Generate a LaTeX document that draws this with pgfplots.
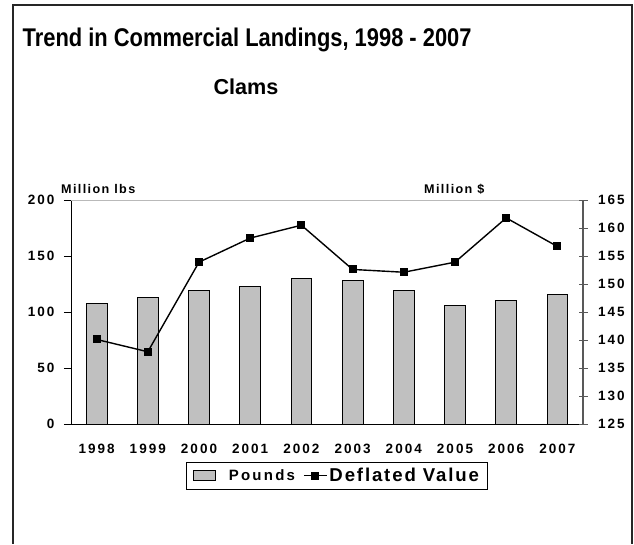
\documentclass[border=0pt]{standalone}
\usepackage{pgfplots}
\pgfplotsset{compat=1.18}
\usepackage{fontspec}
\setmainfont{Liberation Sans}
\newfontfamily\tickf[LetterSpace=15]{Liberation Sans}
\newfontfamily\labf[LetterSpace=11]{Liberation Sans}
\newfontfamily\legf[LetterSpace=10]{Liberation Sans}
\definecolor{bargray}{HTML}{C0C0C0}
\definecolor{framec}{HTML}{262626}

\pgfplotsset{
  barleg/.style={legend image code/.code={\draw[##1] (0pt,-5pt) rectangle (22pt,5pt);
        \path (33pt,0pt);}},
  lineleg/.style={legend image code/.code={\draw[mark repeat=2, mark phase=2, ##1]
        plot coordinates {(0pt,0pt) (11.5pt,0pt) (23pt,0pt)};}},
}

% landings (million lbs) and deflated value (million $)
\pgfplotstableread{
x pounds value
0 108 140.1
1 113 137.9
2 119 153.9
3 123 158.2
4 130 160.5
5 128 152.6
6 119.5 152.1
7 105.6 153.9
8 110.7 161.8
9 115.8 156.7
}\landings

\begin{document}
\begin{tikzpicture}
\path[use as bounding box] (0pt,0pt) rectangle (634pt,544pt);
\fill[framec] (12pt,0pt) rectangle (14pt,540pt);
\fill[framec] (12pt,538pt) rectangle (633pt,540pt);
\fill[framec] (631pt,0pt) rectangle (633pt,540pt);

\node[anchor=base west, inner sep=0] at (22.5pt,497pt)
  {\scalebox{0.855}[1]{\fontsize{25.6}{30}\selectfont\bfseries Trend in Commercial Landings, 1998 - 2007}};
\node[anchor=base, inner sep=0] at (246pt,449pt) {\fontsize{21.6}{26}\selectfont\bfseries Clams};
\node[anchor=base west, inner sep=0] at (61pt,350pt) {\labf\bfseries\fontsize{12.6}{14}\selectfont Million lbs};
\node[anchor=base west, inner sep=0] at (424pt,350pt) {\labf\bfseries\fontsize{12.6}{14}\selectfont Million \$};

\begin{axis}[
    at={(71pt,120pt)}, anchor=south west,
    scale only axis, width=512pt, height=224pt,
    xmin=-0.5, xmax=9.5, ymin=0, ymax=200,
    axis x line*=bottom, axis y line*=left,
    axis line style={black, line width=0.9pt},
    ybar, bar width=20.7pt,
    xtick={0,...,9},
    xticklabels={1998,1999,2000,2001,2002,2003,2004,2005,2006,2007},
    major x tick style={draw=none},
    extra x ticks={-0.5,0.5,...,9.5},
    extra x tick labels={},
    extra x tick style={tick align=outside, major tick length=4pt,
        major tick style={draw=black, line width=0.9pt}},
    ytick={0,50,...,200},
    tick align=outside, major tick length=7pt,
    tick style={black, line width=0.9pt},
    /pgf/number format/assume math mode=true,
    tick label style={font=\tickf\bfseries\fontsize{13.5}{14}\selectfont},
    yticklabel style={xshift=-6pt},
    xticklabel style={yshift=-10pt},
]
\addplot[fill=bargray, draw=black, line width=0.8pt] table[x=x, y=pounds] {\landings};
\draw[gray!55, line width=0.9pt] (axis cs:-0.5,200) -- (axis cs:9.5,200);
\end{axis}

\begin{axis}[
    at={(71pt,120pt)}, anchor=south west,
    scale only axis, width=512pt, height=224pt,
    xmin=-0.5, xmax=9.5, ymin=125, ymax=165,
    axis x line=none, axis y line*=right,
    axis line style={black!65, line width=1.3pt},
    ytick={125,130,...,165},
    tick align=center, major tick length=9pt,
    tick style={black!65, line width=0.9pt},
    /pgf/number format/assume math mode=true,
    tick label style={font=\tickf\bfseries\fontsize{13.5}{14}\selectfont},
    yticklabel style={xshift=7pt},
    legend style={at={(0.5195,-0.23)}, anchor=center, legend columns=2,
        draw=black, line width=0.9pt, inner xsep=7pt, inner ysep=4pt,
        font=\bfseries,
        /tikz/every even column/.append style={column sep=6pt}},
]
\addlegendimage{fill=bargray, draw=black, line width=0.8pt, barleg}
\addlegendentry{\tickf\fontsize{15}{16}\selectfont Pounds}
\addplot[black, line width=1.4pt, mark=square*, mark size=3.3pt, lineleg]
    table[x=x, y=value] {\landings};
\addlegendentry{\legf\fontsize{18.6}{20}\selectfont Deflated Value}
\end{axis}
\end{tikzpicture}
\end{document}
